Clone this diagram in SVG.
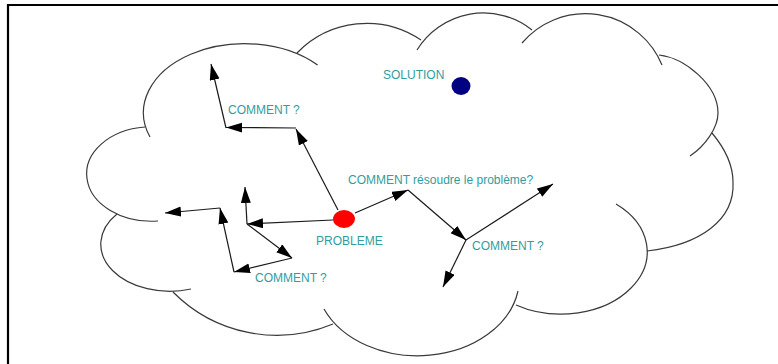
<svg xmlns="http://www.w3.org/2000/svg" width="778" height="364" viewBox="0 0 778 364">
<style>
.frame{fill:none;stroke:#000;stroke-width:2.2}
.cloud{fill:none;stroke:#3a3a3a;stroke-width:1.2}
.arr{fill:none;stroke:#1a1a1a;stroke-width:1.2;marker-end:url(#ah)}
.lbl{font-family:"Liberation Sans",Arial,sans-serif;font-size:12px;fill:#2f9e9e}
</style>
<defs>
<marker id="ah" markerUnits="userSpaceOnUse" markerWidth="18" markerHeight="12" refX="16" refY="5" orient="auto">
<path d="M0,0 L16,5 L0,10 z" fill="#000"/>
</marker>
</defs>
<rect width="778" height="364" fill="#fff"/>
<path class="frame" d="M8,364 L8,5 L778,5"/>
<g id="cloud">
<path class="cloud" d="M150,137 A101,69 0 0 1 317.6,65"/>
<path class="cloud" d="M297,53 A97,97 0 0 1 421,40"/>
<path class="cloud" d="M417,50 A78,78 0 0 1 532,30"/>
<path class="cloud" d="M522,43 A83,83 0 0 1 662,65"/>
<path class="cloud" d="M659,55 C685,58 718,85 718,113 C718,128 705,146 690,156"/>
<path class="cloud" d="M712,133 C722,145 733,162 733,182 C735,220 700,245 647,251"/>
<path class="cloud" d="M616,204 A86,62 0 0 1 631,288 A86,62 0 0 1 516,305"/>
<path class="cloud" d="M518,291 A102,78 0 0 1 324,309"/>
<path class="cloud" d="M333,324 A146,146 0 0 1 173,292"/>
<path class="cloud" d="M117,214 A69,47 0 0 0 191,289"/>
<path class="cloud" d="M145,127 A65,47 0 0 0 87,178.5 A65,47 0 0 0 158,221"/>
</g>
<g id="connectors">
<path class="arr" d="M338,210 L296,129"/>
<path class="arr" d="M296,128 L226,127.5"/>
<path class="arr" d="M226,128 L211,64"/>
<path class="arr" d="M333,220 L247,224"/>
<path class="arr" d="M247,224 L245,187"/>
<path class="arr" d="M247,224 L292,258"/>
<path class="arr" d="M292,258 L234,272"/>
<path class="arr" d="M234,272 L220,208"/>
<path class="arr" d="M220,208 L165,213"/>
<path class="arr" d="M355,213 L408,190"/>
<path class="arr" d="M408,190 L466,240"/>
<path class="arr" d="M466,240 L553,184"/>
<path class="arr" d="M466,240 L443,287"/>
</g>
<g id="probleme">
<ellipse cx="344" cy="219" rx="11" ry="9" fill="#ff0000"/>
<text class="lbl" x="316" y="244.5">PROBLEME</text>
</g>
<g id="solution">
<ellipse cx="461" cy="86" rx="9.5" ry="9" fill="#000080"/>
<text class="lbl" x="383" y="79">SOLUTION</text>
</g>
<g id="comment-top">
<text class="lbl" x="228" y="114">COMMENT ?</text>
</g>
<g id="comment-main">
<text class="lbl" x="348" y="184">COMMENT résoudre le problème?</text>
</g>
<g id="comment-right">
<text class="lbl" x="472" y="250">COMMENT ?</text>
</g>
<g id="comment-low">
<text class="lbl" x="255" y="281.5">COMMENT ?</text>
</g>
</svg>
